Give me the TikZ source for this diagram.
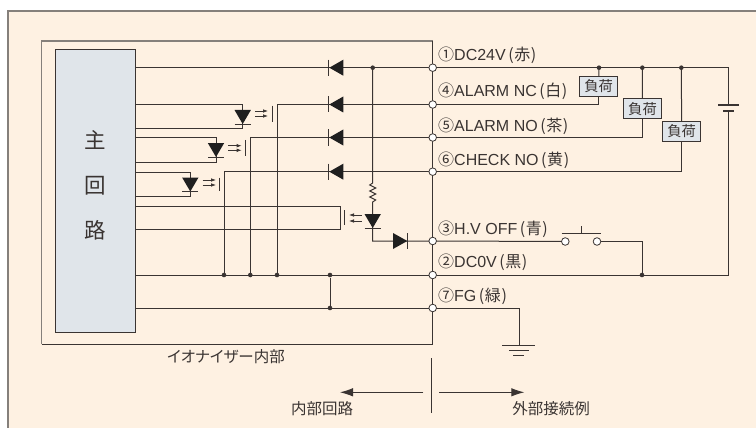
\documentclass[tikz,border=0pt]{standalone}
\usepackage{fontspec}
\usetikzlibrary{arrows.meta}
\setmainfont{Liberation Sans}
\newfontfamily\cjk[RawFeature=+palt]{Noto Sans CJK JP}
\newfontfamily\cjkfull{Noto Sans CJK JP}
\definecolor{bgc}{HTML}{FEF1E2}
\definecolor{boxc}{HTML}{E0E5EA}
\definecolor{ink}{HTML}{3A3432}
\definecolor{frm}{HTML}{85807B}
\newcommand{\tlab}[2]{{\cjkfull #1}#2}
\newcommand{\cp}[1]{{\cjkfull\hspace{2.5pt}(\hspace{.6pt}#1\hspace{.6pt})}}
\tikzset{
  x=1pt,y=-1pt,
  wire/.style={draw=ink,line width=1pt},
  term/.style={circle,draw=ink,fill=white,line width=.8pt,minimum size=7.6pt,inner sep=0pt},
  dot/.style={circle,fill=ink,minimum size=4.6pt,inner sep=0pt},
  load/.style={draw=ink,fill=boxc,line width=1pt,minimum width=38pt,minimum height=19.6pt,inner sep=0pt,font=\cjkfull\fontsize{14.3}{15}\selectfont,text=ink},
  lab/.style={anchor=west,inner sep=0pt,font=\fontsize{16}{17}\selectfont,text=ink},
  captxt/.style={inner sep=0pt,font=\cjk\fontsize{15.5}{16}\selectfont,text=ink},
  mainc/.style={inner sep=0pt,font=\cjkfull\fontsize{21.5}{22}\selectfont,text=ink},
  dfill/.style={fill=black!88},
  arr/.style={draw=ink,line width=.8pt,-{Latex[length=5pt,width=3.6pt]}},
  bigarr/.style={draw=ink,line width=.9pt,-{Latex[length=13pt,width=8.5pt]}},
}
% diode pointing left at bar x, line y
\newcommand{\dleft}[2]{\fill[dfill] (#1+1,#2) -- (#1+15,#2-8) -- (#1+15,#2+8) -- cycle;
  \draw[wire,line width=.8pt] (#1,#2-8) -- (#1,#2+8);}
% LED pointing down: centre x, top y of triangle
\newcommand{\ddown}[2]{\fill[dfill] (#1-8.2,#2) -- (#1+8.2,#2) -- (#1,#2+14) -- cycle;
  \draw[wire,line width=.8pt] (#1-8,#2+14.3) -- (#1+8,#2+14.3);}
\begin{document}
\begin{tikzpicture}
\useasboundingbox (0,0) rectangle (756,428);
\fill[white] (0,0) rectangle (756,428);
\fill[bgc] (8,11) rectangle (756,428);
\draw[frm,line width=1.5pt] (8,428) -- (8,11) -- (756,11);

% inner frame
\draw[frm,line width=1.2pt] (432.7,41) -- (41.5,41) -- (41.5,344);
\coordinate (fTop) at (432.7,41);
\coordinate (fBot) at (432.7,344);
\draw[wire] (41.5,344) -- (fBot);

% main box
\node[draw=ink,fill=boxc,line width=1pt,minimum width=80pt,minimum height=282pt,inner sep=0pt] (main) at (95.3,191) {};
\node[mainc] (m1) at (95.7,140) {主};
\node[mainc] (m2) at (95.7,185.5) {回};
\node[mainc] (m3) at (95.7,230.5) {路};

% terminal points
\coordinate (p1) at (432.7,67.7);
\coordinate (p4) at (432.7,104.5);
\coordinate (p5) at (432.7,137.5);
\coordinate (p6) at (432.7,171.7);
\coordinate (p3) at (432.7,241);
\coordinate (p2) at (432.7,275);
\coordinate (p7) at (432.7,308);
\draw[wire] (fTop) -- (fBot);

% internal horizontal lines
\draw[wire] (main.east|-p1) -- (p1);
\draw[wire] (277,104.5) -- (p4);
\draw[wire] (250.3,137.5) -- (p5);
\draw[wire] (224,171.7) -- (p6);
\draw[wire] (main.east|-p2) -- (p2);
\draw[wire] (main.east|-p7) -- (p7);

% diodes on outputs
\dleft{328.3}{67.7}
\dleft{328.3}{104.5}
\dleft{328.3}{137.5}
\dleft{328.3}{171.7}

% opto LEDs
\draw[wire] (135.3,104.7) -- (242.7,104.7) -- (242.7,129) -- (135.3,129);
\ddown{242.7}{110}
\draw[wire] (135.3,137.3) -- (216,137.3) -- (216,162) -- (135.3,162);
\ddown{216}{143}
\draw[wire] (135.3,172) -- (190.3,172) -- (190.3,196.3) -- (135.3,196.3);
\ddown{190.3}{177.5}

% opto receivers
\draw[wire,line width=.8pt] (272,105.7) -- (272,121.7);
\draw[arr] (255,111) -- (268,111); \draw[arr] (255,116) -- (268,116);
\draw[wire,line width=.8pt] (245.7,140) -- (245.7,155.7);
\draw[arr] (228.3,145.7) -- (241.7,145.7); \draw[arr] (228.3,150.3) -- (241.7,150.3);
\draw[wire,line width=.8pt] (219.7,177.5) -- (219.7,191);
\draw[arr] (202.7,180) -- (216,180); \draw[arr] (202.7,185) -- (216,185);

% transistor verticals
\node[dot] (j1) at (277,275) {};
\node[dot] (j2) at (250.3,275) {};
\node[dot] (j3) at (224,275) {};
\node[dot] (j4) at (330,275) {};
\node[dot] (j5) at (330,308) {};
\draw[wire] (277,104.5) -- (j1);
\draw[wire] (250.3,137.5) -- (j2);
\draw[wire] (224,171.7) -- (j3);
\draw[wire] (j4) -- (j5);

% H.V OFF opto
\draw[wire] (135.3,206.7) -- (340.3,206.7) -- (340.3,229.5) -- (135.3,229.5);
\draw[wire,line width=.8pt] (344.3,210) -- (344.3,225.3);
\draw[arr] (361.7,215) -- (349,215); \draw[arr] (361.7,221) -- (349,221);

% H.V OFF path
\node[dot] (j6) at (372.7,67.7) {};
\draw[wire] (j6) -- (372.7,183)
  -- (369.7,185) -- (375.7,188) -- (369.7,191) -- (375.7,194) -- (369.7,197) -- (375.7,200) -- (372.7,202)
  -- (372.7,241) -- (p3);
\ddown{372.7}{214}
\fill[dfill] (393,233) -- (393,249) -- (407.3,241) -- cycle;
\draw[wire,line width=.8pt] (407.7,233) -- (407.7,249);

% external
\node[dot] (d1) at (599,67.7) {};
\node[dot] (d2) at (642.3,67.7) {};
\node[dot] (d3) at (681.3,67.7) {};
\node[load] (l1) at (598.7,86.5) {負荷};
\node[load] (l2) at (642.5,108.8) {負荷};
\node[load] (l3) at (681.7,131.4) {負荷};
\coordinate (b1) at (728.7,105);
\coordinate (b2) at (728.7,110.7);
\coordinate (b0) at (728.7,275);
\draw[wire] (p1) -- (728.7,67.7) -- (b1);
\draw[wire] (b2) -- (b0) -- (p2);
\draw[wire,line width=1.1pt] (718,105) -- (739,105);
\draw[wire,line width=2.2pt] (723.3,110.7) -- (734,110.7);
\draw[wire] (d1) -- (l1);
\draw[wire] (d2) -- (l2);
\draw[wire] (d3) -- (l3);
\draw[wire] (l1.south) |- (p4);
\draw[wire] (l2.south) |- (p5);
\draw[wire] (l3.south) |- (p6);

% switch
\node[term] (s1) at (565.3,241.5) {};
\node[term] (s2) at (597,241.5) {};
\node[dot] (j7) at (642,275) {};
\draw[wire] (p3) -- (s1);
\draw[wire] (s2) -- (642,241.5) -- (j7);
\draw[wire] (561.7,233.3) -- (600.7,233.3);
\draw[wire] (581,226) -- (581,233.3);

% FG ground
\coordinate (g) at (519,345.3);
\draw[wire] (p7) -- (519,308) -- (g);
\draw[wire] (502.3,345.3) -- (535.3,345.3);
\draw[wire] (509,350.3) -- (529,350.3);
\draw[wire] (513.3,355) -- (524.3,355);

% terminals
\foreach \t in {p1,p4,p5,p6,p3,p2,p7} {\node[term] at (\t) {};}

% labels
\node[lab] (t1) at (438,55.7) {\tlab{①}{DC24V}\cp{赤}};
\node[lab] (t4) at (438,91.7) {\tlab{④}{ALARM NC}\cp{白}};
\node[lab] (t5) at (438,126) {\tlab{⑤}{ALARM NO}\cp{茶}};
\node[lab] (t6) at (438,160) {\tlab{⑥}{CHECK NO}\cp{黄}};
\node[lab] (t3) at (438,229) {\tlab{③}{H.V OFF}\cp{青}};
\node[lab] (t2) at (438,262.7) {\tlab{②}{DC0V}\cp{黒}};
\node[lab] (t7) at (438,296) {\tlab{⑦}{FG}\cp{緑}};

\node[captxt] (c1) at (226,357) {イオナイザー内部};
\node[captxt] (c2) at (322,409) {内部回路};
\node[captxt] (c3) at (551,409) {外部接続例};

% bottom divider and arrows
\coordinate (dT) at (431.7,358.3);
\coordinate (dB) at (431.7,413);
\coordinate (aL) at (340,392.3);
\coordinate (aR) at (524.3,392.3);
\draw[wire] (dT) -- (dB);
\draw[bigarr] (423.3,392.3) -- (aL);
\draw[bigarr] (439.3,392.3) -- (aR);
\end{tikzpicture}
\end{document}
